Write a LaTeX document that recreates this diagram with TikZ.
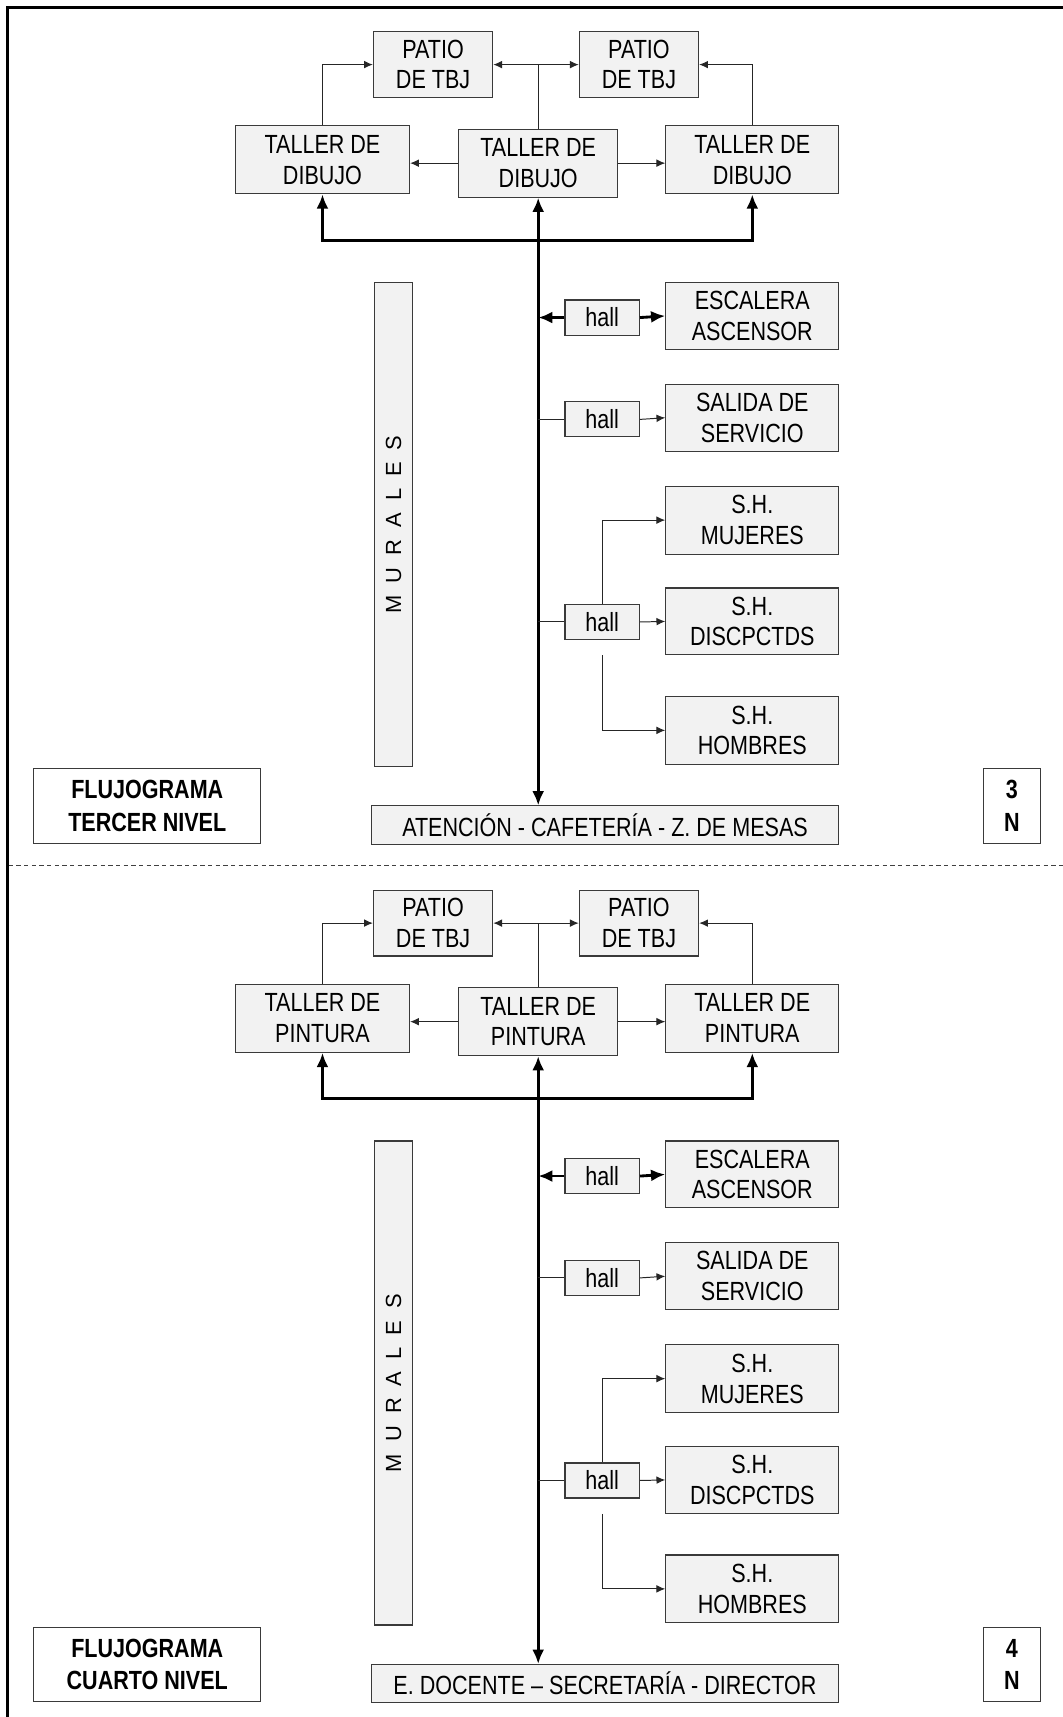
\documentclass[tikz,border=0pt]{standalone}
\usepackage{fontspec}
\setmainfont{Liberation Sans}[FakeStretch=0.82]
\newfontfamily\plainsans{Liberation Sans}
\usetikzlibrary{arrows.meta,calc}
\definecolor{boxfill}{HTML}{F2F2F2}
\definecolor{boxline}{HTML}{3A3A3A}
\tikzset{
  box/.style={draw=boxline, fill=boxfill, line width=1pt, align=center, inner sep=0pt,
    font=\fontsize{24}{28}\selectfont},
  wbox/.style={draw=boxline, fill=white, line width=1pt, align=center, inner sep=0pt,
    font=\fontsize{24}{30}\selectfont\bfseries},
  lnk/.style={line width=0.9pt, draw=black!85},
  lnkarr/.style={lnk, -{Latex[length=8pt,width=7pt]}},
  blk/.style={line width=2.6pt, draw=black},
  blkarr/.style={blk, -{Latex[length=13pt,width=11pt]}},
  blkarrs/.style={blk, {Latex[length=13pt,width=11pt]}-{Latex[length=13pt,width=11pt]}},
}
\newcommand\murtxt{\plainsans\fontsize{20}{24}\selectfont M\hspace{11pt}U\hspace{11pt}R\hspace{11pt}A\hspace{11pt}L\hspace{11pt}E\hspace{11pt}S}
\newcommand\flusec[6]{%
\begin{scope}[shift={(0,#2)}]
  \node[box, minimum width=109pt, minimum height=60pt] (#1pl) at (395.5,59) {PATIO\\DE TBJ};
  \node[box, minimum width=109pt, minimum height=60pt] (#1pr) at (583.5,59) {PATIO\\DE TBJ};
  \node[box, minimum width=159pt, minimum height=62pt] (#1tl) at (294.5,146) {TALLER DE\\#3};
  \node[box, minimum width=145pt, minimum height=62pt] (#1tc) at (491.5,149) {TALLER DE\\#3};
  \node[box, minimum width=158pt, minimum height=62pt] (#1tr) at (687,146) {TALLER DE\\#3};
  \node[box, minimum width=35pt, minimum height=442pt] (#1mu) at (359.5,479) {};
  \node[rotate=90, inner sep=0pt] (#1mut) at (#1mu.center) {\murtxt};
  \node[box, minimum width=68pt, minimum height=32pt] (#1h1) at (550,290) {hall};
  \node[box, minimum width=158pt, minimum height=61pt] (#1esc) at (687,288.5) {ESCALERA\\ASCENSOR};
  \node[box, minimum width=68pt, minimum height=32pt] (#1h2) at (550,383) {hall};
  \node[box, minimum width=158pt, minimum height=61pt] (#1sal) at (687,381.5) {SALIDA DE\\SERVICIO};
  \node[box, minimum width=158pt, minimum height=62pt] (#1muj) at (687,475) {S.H.\\MUJERES};
  \node[box, minimum width=68pt, minimum height=32pt] (#1h3) at (550,568) {hall};
  \node[box, minimum width=158pt, minimum height=61pt] (#1dis) at (687,567.5) {S.H.\\DISCPCTDS};
  \node[box, minimum width=158pt, minimum height=62pt] (#1hom) at (687,667) {S.H.\\HOMBRES};
  \node[box, minimum width=427pt, minimum height=35pt] (#1bot) at (552.5,753.5) {#4};
  \node[wbox, minimum width=207pt, minimum height=68pt] (#1ttl) at (134.5,736) {#5};
  \node[wbox, minimum width=52pt, minimum height=68pt] (#1num) at (924,736) {#6\\N};
  % upper thin links
  \draw[lnkarr] (#1tl.north) |- (#1pl.west);
  \draw[lnkarr] (#1tr.north) |- (#1pr.east);
  \draw[lnkarr] (#1tc.north) |- (#1pl.east);
  \draw[lnkarr] (#1tc.north) |- (#1pr.west);
  \draw[lnkarr] (#1tc.west) -- (#1tc.west -| #1tl.east);
  \draw[lnkarr] (#1tc.east) -- (#1tc.east -| #1tr.west);
  % thick bus and spine
  \coordinate (#1busl) at ($(#1tl.south)+(0,42)$);
  \draw[blkarrs] (#1tl.south) -- (#1busl) -- (#1busl -| #1tr.south) -- (#1tr.south);
  \draw[blkarrs] (#1tc.south) -- (#1tc.south |- #1bot.north);
  % halls
  \draw[blkarr] (#1h1.west) -- (#1h1.west -| #1tc.south);
  \draw[blkarr] (#1h1.east) -- (#1esc.west);
  \draw[lnk] (#1h2.west) -- (#1h2.west -| #1tc.south);
  \draw[lnkarr] (#1h2.east) -- (#1sal.west);
  \draw[lnk] (#1h3.west) -- (#1h3.west -| #1tc.south);
  \draw[lnkarr] (#1h3.north) |- (#1muj.west);
  \draw[lnkarr] (#1h3.east) -- (#1dis.west);
  \coordinate (#1gap) at ($(#1h3.south)+(0,14)$);
  \draw[lnkarr] (#1gap) |- (#1hom.west);
\end{scope}}
\begin{document}
\begin{tikzpicture}[x=1pt,y={(0pt,-1pt)}]
\useasboundingbox (0,0) rectangle (970,1568);
\fill[white] (0,0) rectangle (970,1568);
\coordinate (frtl) at (7,7);
\coordinate (frtr) at (972,7);
\coordinate (frbl) at (7,1570);
\draw[line width=2.6pt, line cap=rect] (frtr) -- (frtl) -- (frbl);
\coordinate (dl) at (8,790);
\coordinate (dr) at (972,790);
\draw[line width=0.9pt, draw=black!75, dash pattern=on 4pt off 3pt] (dl) -- (dr);
\flusec{a}{0}{DIBUJO}{ATENCIÓN - CAFETERÍA - Z. DE MESAS}{FLUJOGRAMA\\TERCER NIVEL}{3}
\flusec{b}{784}{PINTURA}{E. DOCENTE – SECRETARÍA - DIRECTOR}{FLUJOGRAMA\\CUARTO NIVEL}{4}
\end{tikzpicture}
\end{document}
